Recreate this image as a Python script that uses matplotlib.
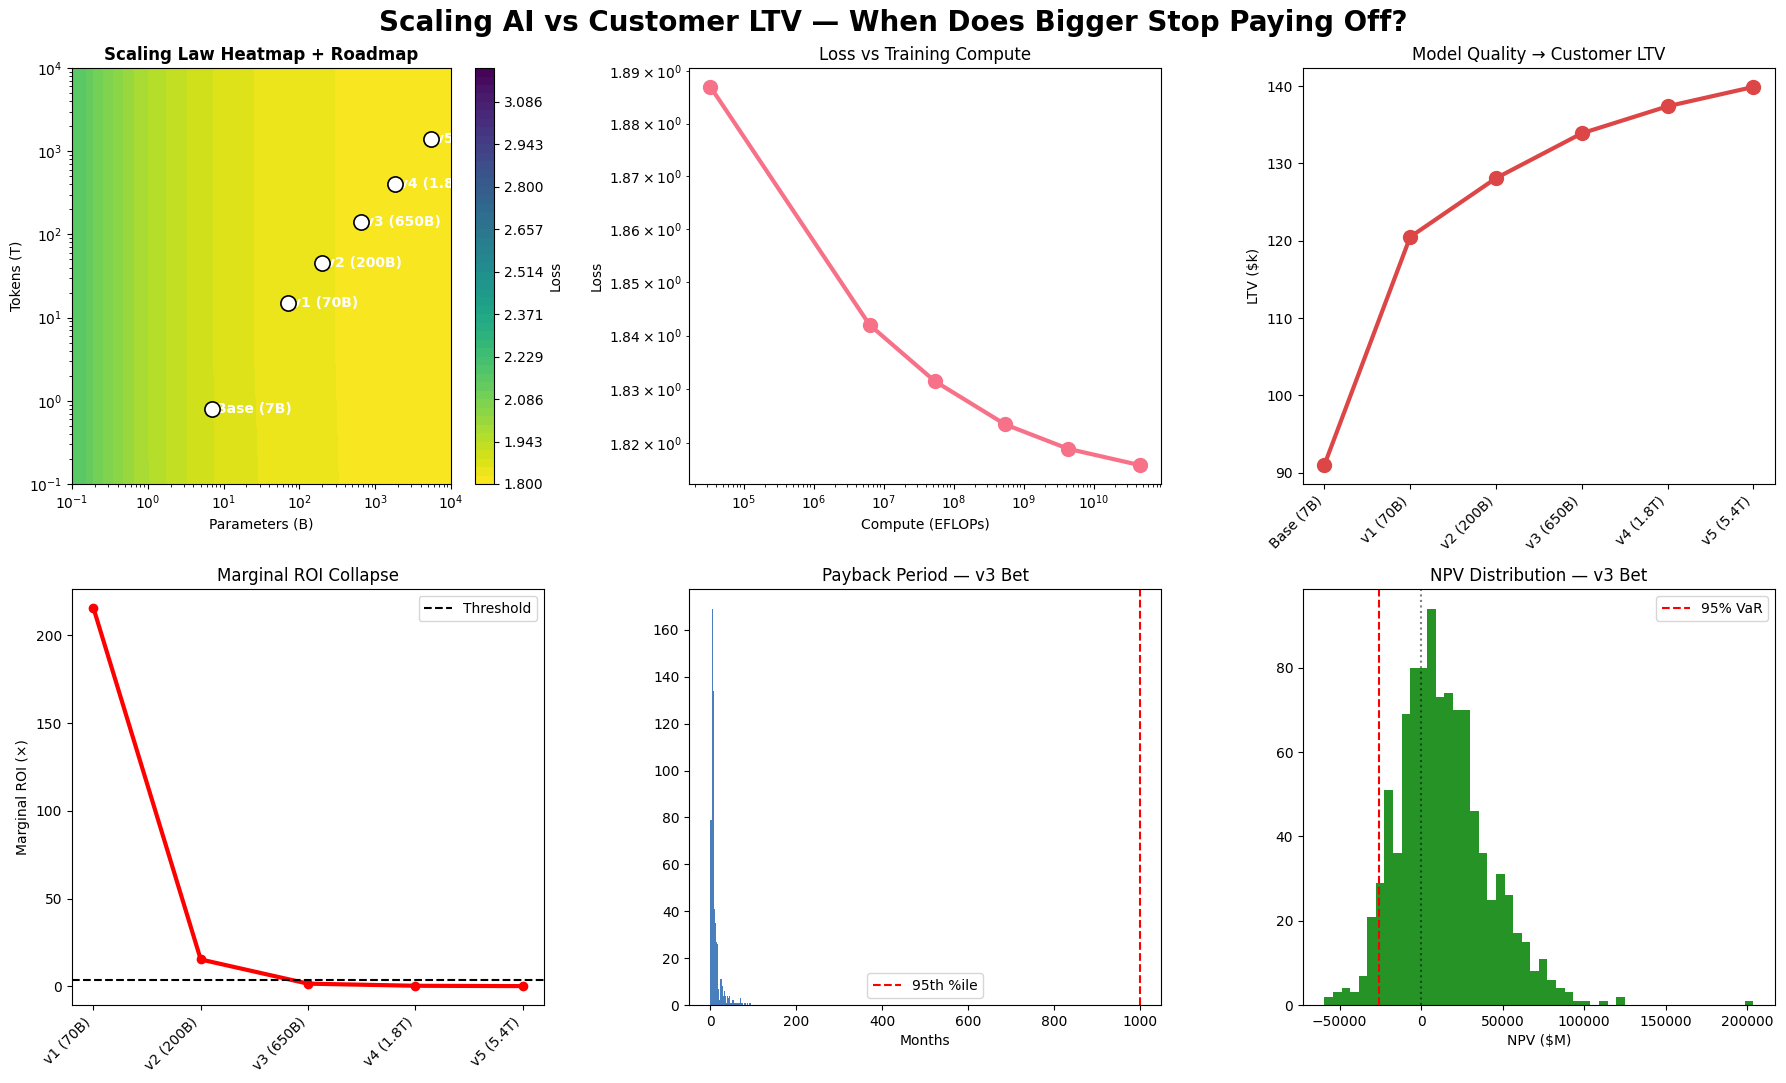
import numpy as np
import matplotlib
matplotlib.use('Agg')
import matplotlib.pyplot as plt
import seaborn as sns

# ---- roadmap data ----
models = ['Base (7B)', 'v1 (70B)', 'v2 (200B)', 'v3 (650B)', 'v4 (1.8T)', 'v5 (5.4T)']
params_b = [7, 70, 200, 650, 1800, 5400]          # parameters, billions
tokens_t = [0.8, 15, 45, 140, 400, 1400]          # training tokens, trillions
loss_vals = [1.887, 1.842, 1.8315, 1.8235, 1.819, 1.816]
ltv_k = [91.0, 120.5, 128.1, 133.9, 137.4, 139.9]
roi_vals = [215.7, 15.3, 1.5, 0.3, 0.1]
roi_threshold = 3.6

# scaling-law surface
param_knots = [0.1, 0.15, 0.1875, 0.249, 0.339, 0.457, 0.647, 1.0, 1.69, 3.21, 7.23, 25.1, 292, 1000, 10000]
loss_knots = [2.165, 2.1429, 2.1143, 2.0857, 2.0571, 2.0286, 2.0, 1.9714, 1.9429, 1.9143,
              1.8857, 1.8571, 1.8286, 1.820, 1.812]
token_knots = [0.1, 3.0, 10000]
token_extra = [0.0004, 0.0, 0.0]

# payback histogram (months)
payback_edges = np.linspace(0.5, 95, 41)
payback_counts = [79, 169, 134, 41, 35, 27, 26, 7, 2, 11, 11, 8, 4, 6, 4, 1, 4, 3, 4, 1,
                  1, 2, 2, 1, 1, 1, 1, 1, 1, 3, 1, 1, 0, 1, 1, 0, 1, 0, 1, 1]
payback_p95 = 1000

# NPV histogram ($M)
npv_edges = np.linspace(-59400, 203900, 51)
npv_counts = [2, 3, 4, 3, 7, 21, 29, 51, 36, 69, 80, 80, 94, 73, 74, 70, 70, 46, 36, 25,
              31, 26, 17, 15, 8, 11, 6, 4, 3, 1, 1, 0, 1, 0, 2, 0, 0, 0, 0, 0,
              0, 0, 0, 0, 0, 0, 0, 0, 0, 1]
npv_var95 = -26000

fig = plt.figure(figsize=(17.86, 10.83), dpi=100)
fig.suptitle('Scaling AI vs Customer LTV — When Does Bigger Stop Paying Off?',
             fontsize=20, fontweight='bold', y=0.992)

top, bot, h, w = 0.5531, 0.072, 0.3841, 0.2643
ax1 = fig.add_axes([0.0403, top, 0.2122, h])
cax = fig.add_axes([0.266, top, 0.0106, h])
ax2 = fig.add_axes([0.3858, top, w, h])
ax3 = fig.add_axes([0.7295, top, w, h])
ax4 = fig.add_axes([0.0403, bot, w, h])
ax5 = fig.add_axes([0.3858, bot, w, h])
ax6 = fig.add_axes([0.7295, bot, w, h])

# 1. heatmap + roadmap
Z = np.array(loss_knots)[None, :] + np.array(token_extra)[:, None]
levels = np.linspace(1.8, 3.2, 50)
cf = ax1.contourf(param_knots, token_knots, Z, levels=levels, cmap='viridis_r')
ax1.set_xscale('log')
ax1.set_yscale('log')
cb = fig.colorbar(cf, cax=cax)
cb.set_label('Loss')
ax1.scatter(params_b, tokens_t, s=120, c='white', edgecolors='black', linewidths=1.2, zorder=5)
for n, d, lab in zip(params_b, tokens_t, models):
    ax1.annotate(lab, (n, d), xytext=(3, 0), textcoords='offset points', va='center',
                 color='white', fontweight='bold', fontsize=10, clip_on=True)
ax1.set_xlabel('Parameters (B)')
ax1.set_ylabel('Tokens (T)')
ax1.set_title('Scaling Law Heatmap + Roadmap', fontweight='bold', fontsize=12)

# 2. loss vs compute
compute = [6000 * n * d for n, d in zip(params_b, tokens_t)]   # EFLOPs
ax2.plot(compute, loss_vals, 'o-', color=sns.color_palette('husl')[0], lw=3, ms=10)
ax2.set_xscale('log')
ax2.set_yscale('log')
ax2.set_xlabel('Compute (EFLOPs)')
ax2.set_ylabel('Loss')
ax2.set_title('Loss vs Training Compute', fontsize=12)

# 3. LTV
ax3.plot(models, ltv_k, 'o-', color='#dc4647', lw=3, ms=10)
ax3.set_ylabel(r'LTV (\$k)')
ax3.set_title('Model Quality → Customer LTV', fontsize=12)
plt.setp(ax3.get_xticklabels(), rotation=45, ha='right')

# 4. marginal ROI
ax4.plot(models[1:], roi_vals, 'o-', color='red', lw=3, ms=6)
ax4.axhline(roi_threshold, color='black', ls='--', label='Threshold')
ax4.set_ylabel('Marginal ROI (×)')
ax4.set_title('Marginal ROI Collapse', fontsize=12)
ax4.legend(loc='upper right')
plt.setp(ax4.get_xticklabels(), rotation=45, ha='right')

# 5. payback
ax5.hist(payback_edges[:-1], bins=payback_edges, weights=payback_counts, color='#4a7fbd')
ax5.axvline(payback_p95, color='red', ls='--', label='95th %ile')
ax5.set_xlabel('Months')
ax5.set_title('Payback Period — v3 Bet', fontsize=12)
ax5.legend(loc='lower center')

# 6. NPV
ax6.hist(npv_edges[:-1], bins=npv_edges, weights=npv_counts, color='green', alpha=0.85)
ax6.axvline(npv_var95, color='red', ls='--', label='95% VaR')
ax6.axvline(0, color='black', ls=':', alpha=0.5)
ax6.set_xlabel(r'NPV (\$M)')
ax6.set_title('NPV Distribution — v3 Bet', fontsize=12)
ax6.legend(loc='upper right')

fig.savefig('out.png', dpi=100)
